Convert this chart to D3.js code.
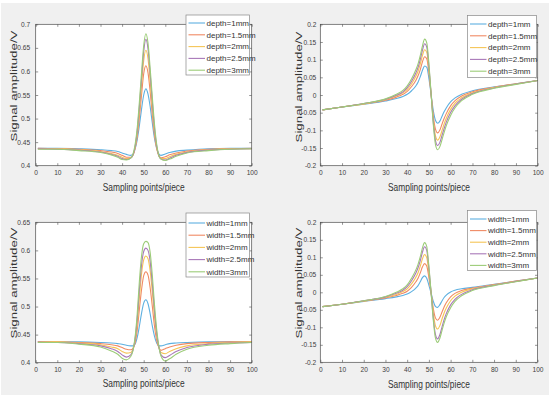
<!DOCTYPE html>
<html><head><meta charset="utf-8">
<script src="https://cdn.jsdelivr.net/npm/d3@7"></script>
<style>body{margin:0;background:#fff}svg{display:block}</style>
</head><body>
<svg id="c" width="550" height="398"></svg>
<script>
const xs = [1,10,20,30,35,38,40,42,44,45,46,47,48,49,50,51,52,53,54,55,56,57,58,60,62,65,70,80,90,100];
const xTicks = [0,10,20,30,40,50,60,70,80,90,100];
const yTicksTL = [0.4,0.45,0.5,0.55,0.6,0.65,0.7];
const yTicksBL = [0.4,0.45,0.5,0.55,0.6,0.65];
const yTicksR = [-0.2,-0.15,-0.1,-0.05,0,0.05,0.1,0.15,0.2];
const depthLabels = ["depth=1mm","depth=1.5mm","depth=2mm","depth=2.5mm","depth=3mm"];
const widthLabels = ["width=1mm","width=1.5mm","width=2mm","width=2.5mm","width=3mm"];

const depthAmp = [
 [0.437,0.437,0.436,0.434,0.432,0.430,0.427,0.424,0.422,0.424,0.435,0.455,0.485,0.520,0.550,0.563,0.552,0.525,0.490,0.458,0.437,0.425,0.422,0.425,0.428,0.431,0.433,0.436,0.437,0.437],
 [0.437,0.436,0.435,0.432,0.429,0.426,0.422,0.418,0.418,0.422,0.436,0.462,0.502,0.550,0.595,0.612,0.597,0.557,0.507,0.465,0.437,0.422,0.417,0.419,0.423,0.427,0.431,0.435,0.436,0.437],
 [0.436,0.436,0.434,0.430,0.426,0.422,0.418,0.415,0.417,0.422,0.438,0.468,0.515,0.570,0.623,0.645,0.627,0.578,0.522,0.472,0.439,0.421,0.415,0.415,0.419,0.424,0.429,0.434,0.436,0.436],
 [0.436,0.435,0.433,0.429,0.424,0.420,0.415,0.413,0.416,0.422,0.440,0.474,0.525,0.585,0.642,0.668,0.648,0.595,0.535,0.480,0.442,0.421,0.414,0.412,0.416,0.422,0.428,0.433,0.435,0.436],
 [0.435,0.435,0.432,0.428,0.423,0.418,0.413,0.412,0.416,0.424,0.444,0.480,0.535,0.597,0.655,0.680,0.660,0.606,0.545,0.488,0.446,0.422,0.414,0.411,0.414,0.420,0.427,0.432,0.435,0.436]
];
const depthDiff = [
 [-0.042,-0.034,-0.026,-0.017,-0.010,-0.004,0.002,0.012,0.026,0.037,0.052,0.070,0.082,0.078,0.045,0.000,-0.045,-0.072,-0.080,-0.074,-0.060,-0.047,-0.036,-0.019,-0.008,0.002,0.012,0.023,0.032,0.041],
 [-0.042,-0.034,-0.025,-0.015,-0.006,0.002,0.010,0.024,0.042,0.055,0.072,0.094,0.108,0.102,0.060,0.000,-0.060,-0.097,-0.107,-0.099,-0.082,-0.066,-0.052,-0.030,-0.016,-0.003,0.009,0.022,0.032,0.041],
 [-0.042,-0.034,-0.025,-0.013,-0.003,0.006,0.016,0.032,0.054,0.068,0.088,0.112,0.128,0.120,0.070,0.000,-0.070,-0.116,-0.128,-0.119,-0.100,-0.081,-0.065,-0.040,-0.023,-0.008,0.006,0.021,0.031,0.041],
 [-0.042,-0.034,-0.024,-0.012,-0.001,0.009,0.021,0.039,0.063,0.079,0.101,0.127,0.145,0.135,0.078,0.000,-0.078,-0.130,-0.143,-0.134,-0.114,-0.094,-0.076,-0.049,-0.030,-0.012,0.004,0.020,0.031,0.041],
 [-0.042,-0.034,-0.024,-0.011,0.002,0.013,0.026,0.046,0.072,0.089,0.112,0.139,0.158,0.147,0.085,0.000,-0.085,-0.141,-0.155,-0.146,-0.126,-0.105,-0.086,-0.057,-0.036,-0.016,0.002,0.019,0.030,0.041]
];
const widthAmp = [
 [0.437,0.437,0.437,0.436,0.435,0.434,0.433,0.431,0.430,0.430,0.433,0.445,0.465,0.488,0.506,0.512,0.505,0.487,0.465,0.447,0.435,0.430,0.430,0.432,0.434,0.435,0.436,0.437,0.437,0.437],
 [0.437,0.437,0.436,0.434,0.432,0.430,0.427,0.424,0.423,0.425,0.435,0.458,0.495,0.530,0.555,0.562,0.556,0.533,0.500,0.465,0.440,0.427,0.422,0.425,0.428,0.431,0.434,0.436,0.437,0.437],
 [0.437,0.437,0.435,0.432,0.428,0.425,0.420,0.417,0.418,0.424,0.440,0.470,0.515,0.558,0.583,0.590,0.585,0.563,0.525,0.482,0.448,0.428,0.418,0.416,0.420,0.425,0.430,0.434,0.436,0.437],
 [0.437,0.436,0.434,0.430,0.425,0.420,0.414,0.410,0.414,0.422,0.442,0.478,0.530,0.574,0.598,0.604,0.600,0.580,0.540,0.492,0.453,0.428,0.414,0.409,0.413,0.420,0.427,0.433,0.435,0.436],
 [0.436,0.436,0.433,0.428,0.421,0.415,0.408,0.405,0.411,0.421,0.445,0.487,0.545,0.590,0.612,0.616,0.614,0.596,0.555,0.503,0.460,0.430,0.412,0.403,0.407,0.415,0.424,0.431,0.434,0.436]
];
const widthDiff = [
 [-0.041,-0.034,-0.026,-0.018,-0.013,-0.009,-0.005,0.002,0.012,0.019,0.030,0.042,0.047,0.040,0.020,-0.002,-0.025,-0.040,-0.043,-0.036,-0.025,-0.015,-0.008,0.001,0.006,0.010,0.014,0.023,0.032,0.041],
 [-0.041,-0.034,-0.025,-0.016,-0.009,-0.003,0.003,0.014,0.030,0.040,0.055,0.072,0.082,0.075,0.042,0.000,-0.045,-0.073,-0.080,-0.072,-0.057,-0.042,-0.030,-0.013,-0.003,0.005,0.012,0.022,0.032,0.041],
 [-0.041,-0.034,-0.025,-0.014,-0.006,0.002,0.010,0.024,0.043,0.056,0.074,0.095,0.108,0.099,0.055,0.000,-0.058,-0.095,-0.105,-0.096,-0.077,-0.059,-0.045,-0.024,-0.011,0.000,0.010,0.021,0.031,0.041],
 [-0.041,-0.034,-0.024,-0.013,-0.003,0.006,0.016,0.033,0.055,0.070,0.090,0.114,0.130,0.120,0.068,0.000,-0.072,-0.120,-0.133,-0.122,-0.100,-0.078,-0.061,-0.036,-0.020,-0.006,0.007,0.020,0.031,0.041],
 [-0.041,-0.034,-0.024,-0.012,0.000,0.010,0.021,0.040,0.064,0.080,0.101,0.126,0.142,0.131,0.074,0.000,-0.078,-0.130,-0.143,-0.132,-0.110,-0.088,-0.070,-0.044,-0.026,-0.010,0.005,0.019,0.030,0.041]
];
const colors = ["#5eb0e0","#f08a64","#f5c556","#a878b8","#9ccc78"];

const svg = d3.select("#c");
svg.append("rect").attr("x",1).attr("y",3).attr("width",548).attr("height",392).attr("fill","#f0f0f0");

const narrow = "'Liberation Sans Narrow','Liberation Sans',Arial,sans-serif";

function panel(o){
  const x = d3.scaleLinear().domain([0,100]).range([o.x0,o.x1]);
  const y = d3.scaleLinear().domain(o.ydom).range([o.y1,o.y0]);
  const g = svg.append("g");
  g.append("rect").attr("x",o.x0).attr("y",o.y0).attr("width",o.x1-o.x0).attr("height",o.y1-o.y0).attr("fill","#fff");
  const line = d3.line().x((d,i)=>x(xs[i])).y(d=>y(d)).curve(d3.curveMonotoneX);
  o.series.forEach((s,i)=>{
    g.append("path").attr("d",line(s)).attr("fill","none").attr("stroke",colors[i]).attr("stroke-width",1.1);
  });
  const tk = 2.5;
  const axStyle = a => a.call(s=>s.select(".domain").remove())
     .call(s=>s.selectAll("line").attr("stroke","#4d4d4d").attr("stroke-width",0.6))
     .call(s=>s.selectAll("text").attr("fill","#404040").style("font-family",narrow).style("font-size","6.6px"));
  g.append("g").attr("transform",`translate(0,${o.y1})`).call(d3.axisBottom(x).tickValues(xTicks).tickSize(-tk).tickPadding(5).tickFormat(d3.format("d"))).call(axStyle);
  g.append("g").attr("transform",`translate(0,${o.y0})`).call(d3.axisTop(x).tickValues(xTicks).tickSize(-tk).tickFormat("")).call(axStyle);
  g.append("g").attr("transform",`translate(${o.x0},0)`).call(d3.axisLeft(y).tickValues(o.yticks).tickSize(-tk).tickPadding(o.ypad).tickFormat(d=>String(+d.toFixed(2)))).call(axStyle);
  g.append("g").attr("transform",`translate(${o.x1},0)`).call(d3.axisRight(y).tickValues(o.yticks).tickSize(-tk).tickFormat("")).call(axStyle);
  g.append("rect").attr("x",o.x0).attr("y",o.y0).attr("width",o.x1-o.x0).attr("height",o.y1-o.y0).attr("fill","none").attr("stroke","#4d4d4d").attr("stroke-width",0.7);
  // labels
  g.append("text").attr("x",(o.x0+o.x1)/2).attr("y",o.xlabY).attr("text-anchor","middle")
    .attr("textLength",82).attr("lengthAdjust","spacingAndGlyphs")
    .style("font-family","'Liberation Sans',Arial,sans-serif").style("font-size","10.5px").attr("fill","#333").text("Sampling points/piece");
  g.append("text").attr("transform",`translate(${o.ylabX},${o.ylabY}) rotate(-90)`).attr("text-anchor","middle")
    .attr("textLength",111).attr("lengthAdjust","spacingAndGlyphs")
    .style("font-family","'Liberation Sans',Arial,sans-serif").style("font-size","9.5px").attr("fill","#333").text("Signal amplitude/V");
  // legend
  const L = o.leg;
  const lg = g.append("g");
  lg.append("rect").attr("x",L.x).attr("y",L.y).attr("width",L.w).attr("height",L.h).attr("fill","#fff").attr("stroke","#888").attr("stroke-width",0.7);
  o.labels.forEach((t,i)=>{
    const yy = L.y + L.r0 + i*L.dy;
    lg.append("line").attr("x1",L.x+2.5).attr("x2",L.x+19).attr("y1",yy).attr("y2",yy).attr("stroke",colors[i]).attr("stroke-width",1.1);
    lg.append("text").attr("x",L.x+20.5).attr("y",yy).attr("dy","0.35em").style("font-family",narrow).style("font-size","8px").attr("fill","#333").text(t);
  });
}

panel({x0:35.7,x1:251.7,y0:24.3,y1:165.7,ydom:[0.4,0.7],yticks:yTicksTL,series:depthAmp,labels:depthLabels,ypad:5.5,
  xlabY:190.5,ylabX:16.5,ylabY:86,leg:{x:186,y:15,w:63.5,h:60,r0:8,dy:11.8}});
panel({x0:320.3,x1:537.7,y0:24.3,y1:165.7,ydom:[-0.2,0.2],yticks:yTicksR,series:depthDiff,labels:depthLabels,ypad:4,
  xlabY:190.5,ylabX:302,ylabY:87,leg:{x:467.5,y:15.5,w:69,h:62,r0:8.5,dy:11.8}});
panel({x0:35.7,x1:251.7,y0:222.3,y1:362.7,ydom:[0.4,0.65],yticks:yTicksBL,series:widthAmp,labels:widthLabels,ypad:5.5,
  xlabY:387,ylabX:16.5,ylabY:283,leg:{x:186,y:213,w:63.5,h:64,r0:10,dy:12.2}});
panel({x0:320.3,x1:537.5,y0:222.3,y1:362.3,ydom:[-0.2,0.2],yticks:yTicksR,series:widthDiff,labels:widthLabels,ypad:4,
  xlabY:387.5,ylabX:302,ylabY:283,leg:{x:467.5,y:210.5,w:69,h:60,r0:8.5,dy:11.6}});
</script>
</body></html>
